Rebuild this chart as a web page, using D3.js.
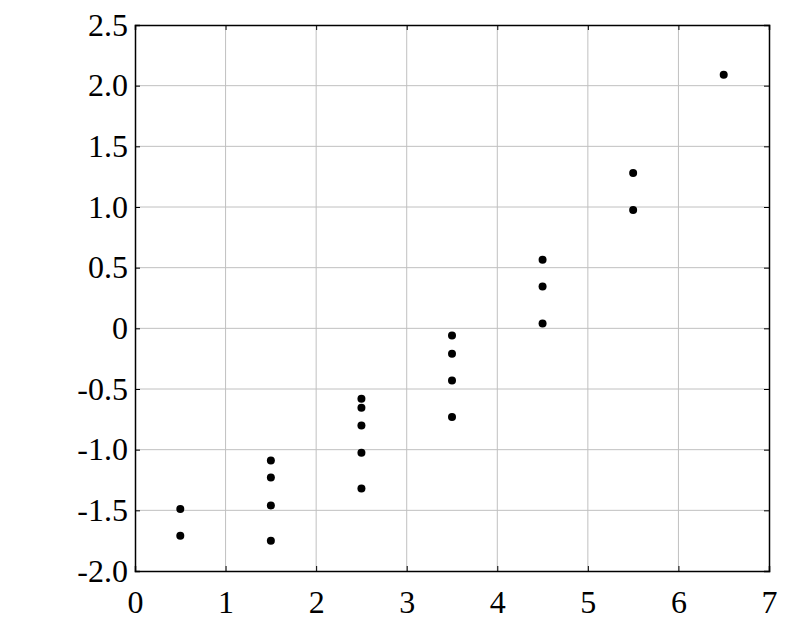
<!DOCTYPE html>
<html lang="en">
	<head>
		<meta charset="utf-8">
		<title>Scatter</title>
		<script type="text/javascript" src="https://cdn.jsdelivr.net/npm/d3@7"></script>
		<style type="text/css">
			body { margin: 0; background: white; }
			text { font-family: "Liberation Serif", "Times New Roman", serif; font-size: 32px; fill: black; }
		</style>
	</head>
	<body>
		<script type="text/javascript">
			//Data
			var xGroups = [0.5, 1.5, 2.5, 3.5, 4.5, 5.5, 6.5];
			var yValues = [
				[-1.49, -1.71],
				[-1.09, -1.23, -1.46, -1.75],
				[-0.58, -0.655, -0.80, -1.025, -1.32],
				[-0.06, -0.21, -0.43, -0.73],
				[0.565, 0.345, 0.04],
				[1.28, 0.975],
				[2.09]
			];
			var xTicks = [0, 1, 2, 3, 4, 5, 6, 7];
			var yTicks = [-2.0, -1.5, -1.0, -0.5, 0, 0.5, 1.0, 1.5, 2.0, 2.5];

			//Setup
			var w = 795;
			var h = 617;
			var m = {left: 135, right: 26, top: 25, bottom: 46};

			var svg = d3.select("body")
				.append("svg")
				.attr("width", w)
				.attr("height", h);

			var x = d3.scaleLinear().domain([0, 7]).range([m.left, w - m.right]);
			var y = d3.scaleLinear().domain([-2, 2.5]).range([h - m.bottom, m.top]);

			//plain hyphen for negatives, like the original
			var fmt = function(d) { return d === 0 ? "0" : d.toFixed(1); };

			//Gridlines
			svg.append("g")
				.selectAll("line.gx")
				.data(xTicks.slice(1, -1))
				.enter().append("line")
				.attr("x1", d => x(d)).attr("x2", d => x(d))
				.attr("y1", y(-2)).attr("y2", y(2.5))
				.style("stroke", "#c0c0c0").style("stroke-width", 1);

			svg.append("g")
				.selectAll("line.gy")
				.data(yTicks.slice(1, -1))
				.enter().append("line")
				.attr("x1", x(0)).attr("x2", x(7))
				.attr("y1", d => y(d)).attr("y2", d => y(d))
				.style("stroke", "#c0c0c0").style("stroke-width", 1);

			//Axes (ticks inward on all sides)
			var tl = 5;
			svg.append("g").attr("transform", "translate(0," + y(-2) + ")")
				.call(d3.axisBottom(x).tickValues(xTicks).tickSize(-tl).tickPadding(19).tickFormat(d => String(d)));
			svg.append("g").attr("transform", "translate(0," + y(2.5) + ")")
				.call(d3.axisTop(x).tickValues(xTicks).tickSize(-tl).tickFormat(""));
			svg.append("g").attr("transform", "translate(" + x(0) + ",0)")
				.call(d3.axisLeft(y).tickValues(yTicks).tickSize(-tl).tickPadding(7).tickFormat(fmt));
			svg.append("g").attr("transform", "translate(" + x(7) + ",0)")
				.call(d3.axisRight(y).tickValues(yTicks).tickSize(-tl).tickFormat(""));

			svg.selectAll(".domain").style("stroke", "black").style("stroke-width", 1.5);
			svg.selectAll(".tick line").style("stroke", "black");
			svg.selectAll("g").attr("font-family", "Liberation Serif").attr("font-size", 32);
			svg.selectAll(".tick text")
				.style("font-family", "'Liberation Serif', serif")
				.style("font-size", "32px")
				.style("fill", "black");

			//Points
			var pts = [];
			xGroups.forEach(function(g, i) {
				yValues[i].forEach(function(v) { pts.push({x: g, y: v}); });
			});

			svg.append("g")
				.selectAll("circle")
				.data(pts)
				.enter().append("circle")
				.attr("cx", d => x(d.x))
				.attr("cy", d => y(d.y))
				.attr("r", 4)
				.style("fill", "black");
		</script>
	</body>
</html>
